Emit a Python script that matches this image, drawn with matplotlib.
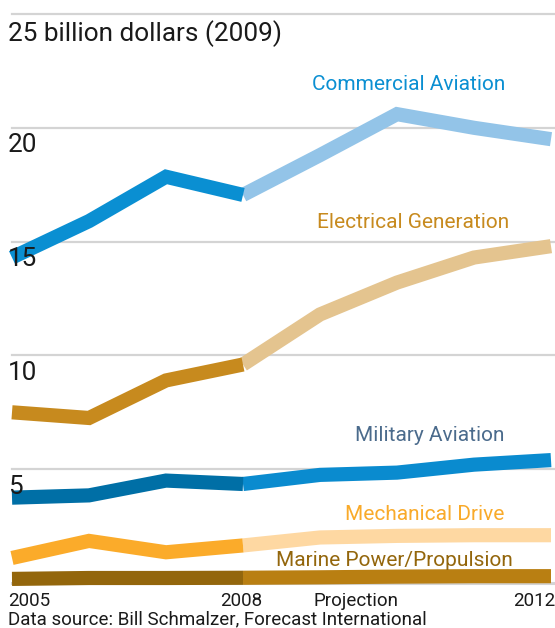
import numpy as np
import matplotlib
matplotlib.use("Agg")
from matplotlib import pyplot as plt

plt.rcParams['font.family'] = ['Roboto', 'DejaVu Sans']

years = [2005, 2006, 2007, 2008, 2009, 2010, 2011, 2012]
split = 3  # index of 2008, last historical year

commercial = [14.3, 15.9, 17.85, 17.05, 18.8, 20.6, 20.0, 19.5]
electrical = [7.5, 7.25, 8.9, 9.6, 11.8, 13.2, 14.3, 14.8]
military = [3.75, 3.85, 4.5, 4.35, 4.75, 4.85, 5.2, 5.4]
mechanical = [1.1, 1.85, 1.35, 1.65, 2.0, 2.07, 2.1, 2.1]
marine = [0.18, 0.22, 0.22, 0.23, 0.25, 0.28, 0.3, 0.3]

series = [
    ('Commercial Aviation', commercial, '#0a8fd2', '#93c4e8', '#0a8fd2'),
    ('Electrical Generation', electrical, '#c78a1e', '#e4c48f', '#c78a1e'),
    ('Military Aviation', military, '#006fa6', '#0a8bcf', '#4b6b8c'),
    ('Mechanical Drive', mechanical, '#fbab2a', '#fed8a2', '#f9aa2a'),
    ('Marine Power/Propulsion', marine, '#93660c', '#b97f12', '#93660c'),
]
# label anchor (right edge in data x, y in data units)
label_pos = {
    'Commercial Aviation': (2011.4, 21.9),
    'Electrical Generation': (2011.45, 15.85),
    'Military Aviation': (2011.4, 6.5),
    'Mechanical Drive': (2011.4, 3.0),
    'Marine Power/Propulsion': (2011.5, 0.97),
}

y_ticks = [0, 5, 10, 15, 20, 25]
y_labels = ['', '5', '10', '15', '20', '25 billion dollars (2009)']

W, H = 555, 628
fig = plt.figure(figsize=(W / 100, H / 100), dpi=100)
left, right, top, bottom = 12, 555, 14, 583
ax = fig.add_axes([left / W, (H - bottom) / H, (right - left) / W, (bottom - top) / H])
px_per_year = 77.0
ax.set_xlim(2005, 2005 + (right - left) / px_per_year)
ax.set_ylim(0, 25)
ax.axis('off')

for t in y_ticks:
    ax.axhline(t, color='#d4d4d4', lw=1.6 if t else 2.2, zorder=1, clip_on=False)

for t, lab in zip(y_ticks, y_labels):
    if lab:
        ax.text(2004.95, t - 0.25, lab, fontsize=18.8, color='#1a1a1a',
                ha='left', va='top', zorder=5)

lw = 10.2
for name, vals, c_hist, c_proj, c_lab in series:
    ax.plot(years[:split + 1], vals[:split + 1], color=c_hist, lw=lw,
            solid_capstyle='butt', solid_joinstyle='miter', zorder=3, clip_on=False)
    ax.plot(years[split:], vals[split:], color=c_proj, lw=lw,
            solid_capstyle='butt', solid_joinstyle='miter', zorder=2, clip_on=False)
    lx, ly = label_pos[name]
    ax.text(lx, ly, name, color=c_lab, fontsize=15, ha='right', va='center', zorder=5)

fs = 13.5
fig.text(8 / W, 1 - 601 / H, '2005', fontsize=fs, ha='left', va='center', color='#1a1a1a')
fig.text(241 / W, 1 - 601 / H, '2008', fontsize=fs, ha='center', va='center', color='#1a1a1a')
fig.text(356 / W, 1 - 601 / H, 'Projection', fontsize=fs, ha='center', va='center', color='#1a1a1a')
fig.text(555 / W, 1 - 601 / H, '2012', fontsize=fs, ha='right', va='center', color='#1a1a1a')
fig.text(8 / W, 1 - 619 / H, 'Data source: Bill Schmalzer, Forecast International',
         fontsize=fs, ha='left', va='center', color='#1a1a1a')

fig.savefig('out.png', dpi=100, facecolor='white')
